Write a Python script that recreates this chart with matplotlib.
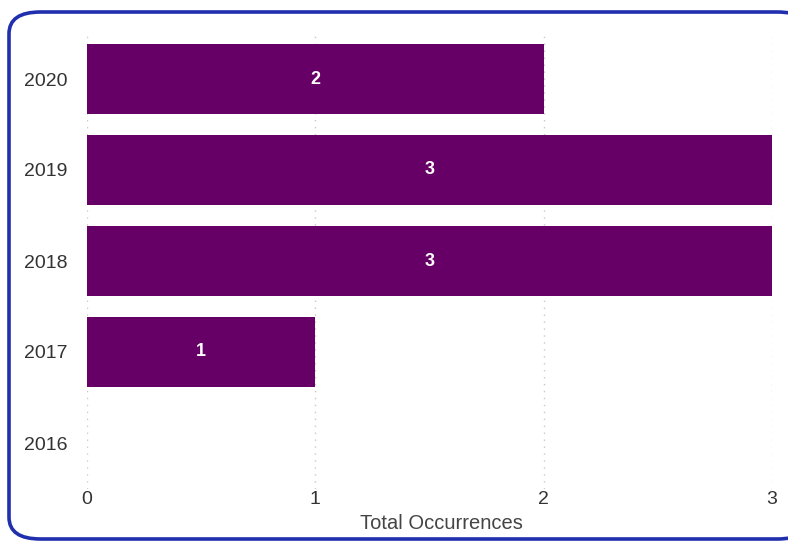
import matplotlib.pyplot as plt
from matplotlib.patches import FancyBboxPatch

years = ["2016", "2017", "2018", "2019", "2020"]
occurrences = [0, 1, 3, 3, 2]
x_ticks = [0, 1, 2, 3]

plt.rcParams['font.family'] = ['Liberation Sans', 'DejaVu Sans']

fig = plt.figure(figsize=(7.88, 5.43), dpi=100)
W, H = 788, 543

# rounded card border (right edge runs off the picture)
card = FancyBboxPatch((9 / W, 4 / H), 800 / W, 527 / H,
                      boxstyle="round,pad=0,rounding_size=0.04",
                      transform=fig.transFigure, facecolor="white",
                      edgecolor="#1f2fae", linewidth=2.6, zorder=-1)
fig.patches.append(card)

ax = fig.add_axes([87 / W, 1 - 488.5 / H, (772 - 87) / W, (488.5 - 33.5) / H])
ax.set_zorder(2)
ax.set_facecolor("none")

pos = range(len(years))
bars = ax.barh(pos, occurrences, height=0.78, color="#660066", zorder=2)
for y, v in zip(pos, occurrences):
    if v > 0:
        ax.text(v / 2, y, str(v), color="white", ha="center", va="center",
                fontsize=13, fontweight="bold", zorder=3)

ax.set_xlim(0, 3)
ax.set_ylim(-0.5, 4.5)
ax.set_yticks(list(pos))
ax.set_yticklabels(years)
ax.set_xticks(x_ticks)
ax.set_xticklabels([str(t) for t in x_ticks])
ax.tick_params(length=0, labelsize=14, colors="#333333")
ax.tick_params(axis="y", pad=14)
ax.tick_params(axis="x", pad=2)
ax.grid(axis="x", linestyle=(0, (1, 4)), color="#c8c8c8", linewidth=1, zorder=1)
for s in ax.spines.values():
    s.set_visible(False)
ax.set_xlabel("Total Occurrences", fontsize=14.5, color="#444444")
ax.xaxis.set_label_coords(0.517, -0.076, transform=ax.transAxes)
ax.xaxis.label.set_va("center")

fig.savefig("out.png", dpi=100)
